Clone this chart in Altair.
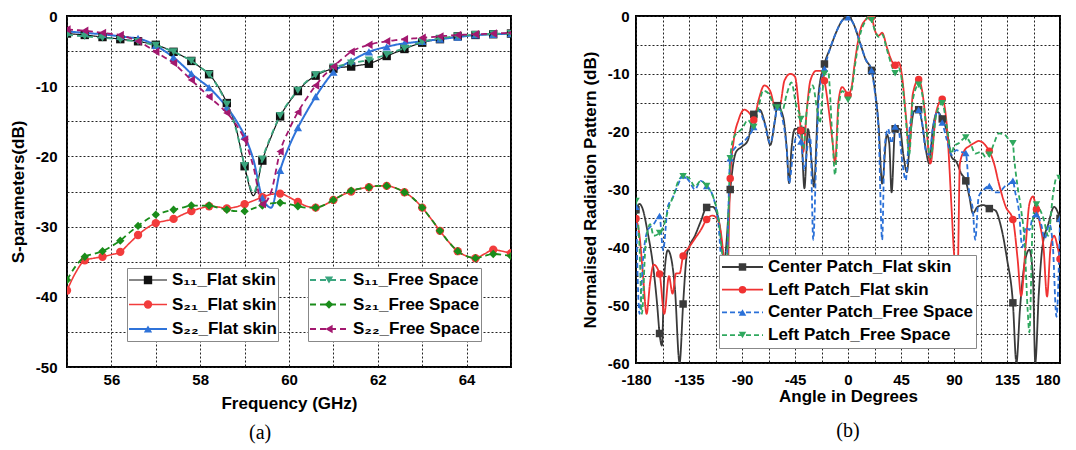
import altair as alt
import pandas as pd

FONT = "Liberation Sans"

# ---------------- Panel (a): S-parameters ----------------
FREQ = [55.0, 55.2, 55.4, 55.6, 55.8, 56.0, 56.2, 56.4, 56.6, 56.8,
        57.0, 57.2, 57.4, 57.6, 57.8, 58.0, 58.2, 58.4, 58.6, 58.8,
        59.0, 59.2, 59.4, 59.6, 59.8, 60.0, 60.2, 60.4, 60.6, 60.8,
        61.0, 61.2, 61.4, 61.6, 61.8, 62.0, 62.2, 62.4, 62.6, 62.8,
        63.0, 63.2, 63.4, 63.6, 63.8, 64.0, 64.2, 64.4, 64.6, 64.8, 65.0]

S11_FLAT = [-2.5, -2.6, -2.7, -2.85, -3.0, -3.15, -3.3, -3.45, -3.6, -3.85,
            -4.1, -4.55, -5.1, -5.7, -6.4, -7.3, -8.3, -10.0, -12.4, -15.8,
            -21.4, -25.6, -20.6, -17.2, -14.3, -12.3, -10.7, -9.4, -8.5, -7.9,
            -7.5, -7.3, -7.2, -7.0, -6.8, -6.3, -5.7, -5.2, -4.7, -4.2,
            -3.8, -3.5, -3.3, -3.1, -2.9, -2.8, -2.7, -2.65, -2.6, -2.55, -2.5]
S21_FLAT = [-39.1, -36.5, -34.8, -34.5, -34.3, -34.0, -33.6, -32.4, -31.2, -30.2,
            -29.5, -29.2, -28.9, -28.3, -27.8, -27.4, -27.1, -27.2, -27.4, -27.2,
            -26.8, -26.3, -25.8, -25.4, -25.3, -25.8, -26.5, -27.1, -27.3, -26.9,
            -26.2, -25.5, -25.0, -24.6, -24.4, -24.2, -24.2, -24.5, -25.1, -26.0,
            -27.3, -28.9, -30.6, -32.2, -33.5, -34.2, -34.5, -33.9, -33.3, -33.5, -33.8]
S22_FLAT = [-2.2, -2.3, -2.4, -2.5, -2.6, -2.75, -2.9, -3.05, -3.2, -3.6,
            -4.2, -5.0, -5.9, -7.0, -8.2, -9.2, -10.2, -11.5, -13.0, -14.8,
            -17.1, -20.5, -25.9, -27.3, -22.0, -18.6, -15.9, -13.6, -11.5, -9.6,
            -8.0, -7.1, -6.4, -5.7, -5.1, -4.7, -4.4, -4.1, -3.9, -3.75,
            -3.6, -3.45, -3.3, -3.15, -3.0, -2.85, -2.7, -2.65, -2.6, -2.55, -2.5]
S11_FREE = [-2.7, -2.8, -2.9, -3.0, -3.1, -3.2, -3.35, -3.5, -3.65, -3.9,
            -4.2, -4.6, -5.1, -5.7, -6.4, -7.3, -8.3, -10.1, -12.6, -16.0,
            -21.3, -25.2, -20.4, -17.0, -14.2, -12.2, -10.6, -9.3, -8.4, -7.8,
            -7.3, -7.0, -6.7, -6.5, -6.3, -5.9, -5.5, -5.0, -4.6, -4.1,
            -3.7, -3.4, -3.2, -3.0, -2.85, -2.75, -2.65, -2.6, -2.55, -2.5, -2.5]
S21_FREE = [-37.6, -35.6, -34.3, -33.9, -33.5, -32.8, -32.0, -30.9, -29.9, -29.0,
            -28.3, -27.9, -27.6, -27.3, -27.0, -27.0, -27.0, -27.3, -27.6, -27.8,
            -27.8, -27.4, -27.0, -26.7, -26.6, -26.8, -27.1, -27.3, -27.3, -26.9,
            -26.2, -25.5, -24.9, -24.6, -24.4, -24.2, -24.2, -24.5, -25.1, -26.0,
            -27.3, -28.9, -30.6, -32.2, -33.5, -34.2, -34.5, -34.2, -33.9, -34.0, -34.2]
S22_FREE = [-1.9, -2.0, -2.1, -2.25, -2.4, -2.55, -2.7, -3.1, -3.6, -4.3,
            -5.1, -5.9, -6.7, -7.9, -9.1, -10.3, -11.5, -12.6, -13.8, -15.4,
            -17.6, -21.5, -26.8, -25.0, -19.3, -16.2, -13.7, -11.7, -9.9, -8.4,
            -7.2, -6.1, -5.1, -4.5, -4.1, -3.8, -3.6, -3.45, -3.3, -3.2,
            -3.1, -3.0, -2.9, -2.8, -2.7, -2.65, -2.6, -2.55, -2.5, -2.45, -2.4]

A_FLAT = ["S\u2081\u2081_Flat skin", "S\u2082\u2081_Flat skin", "S\u2082\u2082_Flat skin"]
A_FREE = ["S\u2081\u2081_Free Space", "S\u2082\u2081_Free Space", "S\u2082\u2082_Free Space"]
A_FLAT_COLORS = ["#111111", "#f23c3c", "#2f73d9"]
A_FREE_COLORS = ["#3aa57e", "#1a8c1a", "#a3186f"]
A_FLAT_SHAPES = ["square", "circle", "triangle-up"]
A_FREE_SHAPES = ["triangle-down", "diamond", "triangle-left"]

# ---------------- Panel (b): radiation pattern ----------------
CF_ANG = [-180, -177, -175, -170, -165, -162, -160, -158, -156, -153, -150, -147, -143, -140, -137, -135,
          -130, -125, -120, -115, -110, -105, -100, -97, -95, -90, -85, -80, -75, -70, -66, -62, -60,
          -55, -52, -50, -48, -45, -40, -37, -34, -31, -29, -25, -20, -15, -10, -5, 0, 5, 10, 15, 20,
          23, 26, 29, 33, 35, 37, 40, 44, 47, 50, 53, 56, 60, 63, 66, 69, 72, 76, 80, 84, 88, 92, 96,
          100, 103, 106, 110, 115, 120, 125, 130, 135, 140, 143, 146, 150, 154, 157, 159, 162, 165,
          170, 175, 180]
CF_DB = [-33.5, -32.5, -33, -37.5, -44, -50, -54.9, -57, -45, -40.5, -42, -47, -60, -49.8, -41.5, -40,
         -38, -35.5, -33.1, -33, -35, -42, -30, -25, -23.5, -22.6, -21.5, -17, -16.2, -19, -22.3, -18, -15.5,
         -17.5, -23, -28.9, -23, -19.5, -19.8, -29.8, -19.5, -25, -29.5, -13.5, -8.3, -5.5, -2.8, -0.8, 0,
         -1.5, -4.5, -7.5, -9.4, -13, -19, -29, -20.5, -22, -30.5, -19.5, -19.5, -24, -27, -20.5, -16.5,
         -16.2, -18.6, -23, -25.5, -19.5, -16.6, -17.8, -20, -24.4, -25.2, -27.2, -28.5, -31.2, -34.1, -33,
         -32.7, -33.3, -33.6, -36.5, -42, -49.6, -60, -50.7, -42.7, -40.4, -45, -60, -48, -40, -36, -33, -35]

LF_ANG = [-180, -177, -174, -171, -168, -165, -160, -156, -152, -149, -146, -143, -140, -135, -130, -125,
          -120, -115, -110, -106, -103, -100, -97, -93, -88, -83, -80, -76, -71, -66, -62, -58, -54, -49,
          -45, -42, -40, -38, -35, -32, -27, -23, -20, -17, -13, -11, -8, -5, -2, 0, 3, 6, 10, 15, 19, 20,
          23, 26, 29, 33, 37, 40, 43, 46, 49, 52, 55, 60, 63, 66, 70, 75, 80, 84, 88, 90, 93, 95, 99, 103,
          107, 111, 116, 120, 124, 128, 134, 140, 144, 147, 151, 154, 157, 160, 163, 166, 169, 172, 175,
          178, 180]
LF_DB = [-35, -38, -45, -51.5, -46, -43, -44.6, -51.5, -45, -48, -44.5, -44.5, -41.5, -40, -38.5, -37,
         -35.2, -34.5, -35.5, -41, -50, -28.1, -21.5, -18, -16.2, -17, -18, -14.6, -12, -13, -15.5, -15.5,
         -11.2, -10, -10.5, -15.2, -19.8, -23.5, -16.3, -11.2, -9.5, -9.5, -11.2, -15.2, -22, -25.5, -14.6,
         -12.3, -13, -13.7, -12.3, -7.7, -2.8, -0.6, 0, -0.2, -2.6, -3.4, -2.9, -5.4, -7.7, -8.5, -8, -10.6,
         -16.9, -23.2, -13.5, -11, -13, -18, -25.5, -16.5, -14.4, -19.2, -33.5, -41, -45, -25.5, -23.2,
         -22.5, -22, -21.6, -22.2, -23.4, -25.5, -28.9, -33, -35.2, -42, -48.4, -39.3, -32.5, -31.2, -33.4,
         -36, -40, -48.5, -40, -38, -40, -42]

CS_ANG = [-180, -177, -174, -170, -165, -160, -157, -153, -149, -145, -140, -135, -130, -125, -120, -115,
          -110, -106, -103, -100, -95, -90, -85, -80, -76, -71, -66, -62, -60, -56, -52, -50, -46, -43, -40,
          -37, -34, -32, -29.5, -27, -24.5, -20, -15, -10, -5, 0, 5, 10, 15, 20, 23, 26, 29, 31, 34, 37, 40,
          43, 46, 49, 52, 56, 60, 63, 66, 69, 72, 76, 80, 84, 88, 92, 96, 100, 103, 106, 108, 111, 115, 120,
          124, 128, 133, 137, 140, 142, 145, 148, 151, 154, 157, 160, 164, 167, 171, 174, 177, 180]
CS_DB = [-33, -51.5, -42, -37, -36, -34.6, -40.5, -33, -31.5, -29.5, -27.6, -28.5, -30, -28.5, -29.4, -31,
         -36, -46, -43, -24.6, -22.6, -22, -20.9, -19.2, -16.3, -18.5, -22, -18, -15.8, -17.5, -23.2, -28.9,
         -22.5, -20.6, -21.7, -26.6, -22, -21, -38.7, -25, -13.5, -9.1, -5.5, -2.8, -0.8, -0.2, -1.5, -4.5,
         -7.5, -9.4, -13.5, -20, -38.7, -23, -19.5, -22, -19.1, -19.8, -25, -28.4, -20, -16.3, -16.2, -18.6,
         -23.2, -24, -19.5, -16.6, -18.4, -21.5, -24, -23.2, -23.5, -23.7, -30.7, -33.5, -38.7, -31.2, -30.1,
         -29.4, -30.5, -30.5, -29.5, -29, -28.5, -30.5, -33.5, -40, -36.5, -37, -34.7, -34.3, -36, -38.5,
         -36, -40, -52, -35]

LS_ANG = [-180, -177, -175, -172, -168, -165, -160, -156, -152, -148, -144, -140, -135, -130, -125, -120,
          -115, -110, -106, -103, -100, -97, -90, -85, -80, -76, -72, -67, -62, -60, -56, -52, -48, -44, -40,
          -38, -35, -30, -26, -24, -20, -17, -13, -11, -8, -5, -2, 0, 3, 6, 10, 15, 18, 20, 23, 26, 29, 33,
          37, 40, 43, 46, 49, 52, 55, 60, 63, 66, 70, 75, 80, 84, 88, 90, 94, 100, 104, 108, 113, 117, 120,
          124, 128, 133, 137, 140, 141, 144, 147, 150, 152.5, 154, 157, 160, 163, 166, 170, 174, 177, 180]
LS_DB = [-32, -40, -51.5, -40, -36, -38, -37.5, -36, -33, -31, -28.5, -27.7, -28, -29.5, -28.5, -29.4,
         -31, -35, -42, -43, -24.6, -21, -19.5, -18, -19.2, -15.8, -12.9, -13.5, -15.8, -15.8, -16.5, -13.5,
         -11.5, -15.5, -17.8, -23, -16.3, -12, -16.5, -18.5, -10, -9.5, -22, -27.5, -16, -13, -13.5, -14.5,
         -13, -8.5, -3.5, -0.8, 0, -0.7, -2.6, -3.6, -3.2, -5.8, -8.5, -9.9, -9, -11.5, -17.5, -24, -14.5,
         -11.9, -13.5, -18.5, -24.5, -17, -15.1, -19.2, -23.8, -22.5, -22, -21, -22, -23.8, -23.5, -24.4,
         -24, -22, -20.3, -20.5, -21.5, -22, -24.4, -29.5, -33.5, -39.3, -50.7, -54.7, -35, -32.6, -33.5,
         -35, -38, -31, -28, -28]

B_NAMES = ["Center Patch_Flat skin", "Left Patch_Flat skin",
           "Center Patch_Free Space", "Left Patch_Free Space"]
B_COLORS = ["#3a3a3a", "#f03232", "#2a70d8", "#2fa85e"]
B_SHAPES = ["square", "circle", "triangle-up", "triangle-down"]

for a_, b_ in [(CF_ANG, CF_DB), (LF_ANG, LF_DB), (CS_ANG, CS_DB), (LS_ANG, LS_DB)]:
    assert len(a_) == len(b_), (len(a_), len(b_))

# ---------------- build tables ----------------
rows_a = []
for name, vals in zip(A_FLAT + A_FREE, [S11_FLAT, S21_FLAT, S22_FLAT, S11_FREE, S21_FREE, S22_FREE]):
    for i, (f, v) in enumerate(zip(FREQ, vals)):
        rows_a.append({"f": f, "v": v, "s": name, "mk": int(i % 2 == 0)})
df_a = pd.DataFrame(rows_a)

rows_b = []
for name, angs, vals in zip(B_NAMES, [CF_ANG, LF_ANG, CS_ANG, LS_ANG], [CF_DB, LF_DB, CS_DB, LS_DB]):
    for a, v in zip(angs, vals):
        rows_b.append({"a": a, "v": v, "s": name, "mk": int((a + 180) % 20 == 0)})
df_b = pd.DataFrame(rows_b)


def line_legend(x, y, sym_len, clip, rowpad, pad, extra=None):
    kw = dict(orient="none", legendX=x, legendY=y, title=None, symbolType="stroke",
              symbolSize=sym_len * sym_len, clipHeight=clip, rowPadding=rowpad, padding=pad,
              fillColor="white", strokeColor="#888888", labelFont=FONT, labelFontSize=17,
              labelFontWeight="bold", labelColor="black", labelLimit=400, labelOffset=4)
    if extra:
        kw.update(extra)
    return alt.Legend(**kw)


def marker_legend(x, y, clip, rowpad, pad, size):
    # markers only: drawn on top of the line legend's stroke symbols
    return alt.Legend(orient="none", legendX=x, legendY=y, title=None, symbolSize=size,
                      clipHeight=clip, rowPadding=rowpad, padding=pad, labelFont=FONT,
                      labelFontSize=17, labelFontWeight="bold", labelOpacity=0,
                      labelExpr="' '", labelLimit=400, labelOffset=4, symbolStrokeWidth=0)


# ---------------- panel (a) ----------------
xa = alt.X("f:Q", scale=alt.Scale(domain=[55, 65], nice=False, zero=False),
           axis=alt.Axis(values=list(range(55, 66)), title="Frequency (GHz)",
                         labelExpr="datum.value % 2 == 0 && datum.value > 55 && datum.value < 65 ? toString(datum.value) : ''",
                         labelPadding=5, titlePadding=8))
ya = alt.Y("v:Q", scale=alt.Scale(domain=[-50, 0], nice=False, zero=False),
           axis=alt.Axis(values=list(range(-50, 1, 5)), title="S-parameters(dB)",
                         labelExpr="datum.value % 10 == 0 ? toString(datum.value) : ''",
                         labelPadding=10, titlePadding=8))


def a_group(names, colors, dashes, widths, shapes, lx, ly, sym_len, shift):
    base = alt.Chart(df_a).transform_filter(alt.FieldOneOfPredicate(field="s", oneOf=names))
    lleg = line_legend(lx, ly, sym_len, 22, 2.5, 1)
    lines = base.mark_line(interpolate="monotone", clip=True).encode(
        x=xa, y=ya,
        color=alt.Color("s:N", scale=alt.Scale(domain=names, range=colors), legend=lleg),
        strokeDash=alt.StrokeDash("s:N", scale=alt.Scale(domain=names, range=dashes), legend=lleg),
        strokeWidth=alt.StrokeWidth("s:N", scale=alt.Scale(domain=names, range=widths), legend=lleg),
    )
    mleg = marker_legend(lx + shift, ly, 22, 2.5, 1, 70)
    pts = base.transform_filter(alt.datum.mk == 1).mark_point(filled=True, size=70, opacity=1, clip=True).encode(
        x=xa, y=ya,
        color=alt.Color("s:N", scale=alt.Scale(domain=names, range=colors), legend=mleg),
        shape=alt.Shape("s:N", scale=alt.Scale(domain=names, range=shapes), legend=mleg),
    )
    return [lines, pts]


layers_a = (a_group(A_FLAT, A_FLAT_COLORS, [[1, 0], [1, 0], [1, 0]], [1.2, 2.0, 2.0], A_FLAT_SHAPES,
                    60, 252, 38, 11.5)
            + a_group(A_FREE, A_FREE_COLORS, [[6, 4], [6, 4], [6, 4]], [1.8, 1.8, 1.8], A_FREE_SHAPES,
                      241, 252, 38, 11.5))

panel_a = alt.layer(*layers_a).resolve_scale(
    color="independent", shape="independent", strokeDash="independent", strokeWidth="independent"
).properties(
    width=444, height=351,
    title=alt.TitleParams("(a)", orient="bottom", font="Liberation Serif", fontSize=20,
                          fontWeight="normal", color="black", frame="bounds", offset=12),
)

# ---------------- panel (b) ----------------
xb = alt.X("a:Q", scale=alt.Scale(domain=[-180, 180], nice=False, zero=False),
           axis=alt.Axis(values=[-180 + 22.5 * k for k in range(17)], title="Angle in Degrees",
                         labelExpr="datum.value % 45 == 0 ? toString(datum.value) : ''",
                         labelAlign={"condition": {"test": "datum.value >= 180", "value": "right"},
                                     "value": "center"},
                         labelPadding=9, titlePadding=1))
yb = alt.Y("v:Q", scale=alt.Scale(domain=[-60, 0], nice=False, zero=False),
           axis=alt.Axis(values=list(range(-60, 1, 5)), title="Normalised Radiation Pattern (dB)",
                         labelExpr="datum.value % 10 == 0 ? toString(datum.value) : ''",
                         labelPadding=7, titlePadding=8))

base_b = alt.Chart(df_b)
lleg_b = line_legend(83, 239, 41, 20, 2.7, 2,
                     extra={"symbolStrokeWidth": 1.8, "labelExpr": "datum.label + '        '"})
lines_b = base_b.mark_line(interpolate="monotone", strokeWidth=1.8, clip=True).encode(
    x=xb, y=yb,
    color=alt.Color("s:N", scale=alt.Scale(domain=B_NAMES, range=B_COLORS), legend=lleg_b),
    strokeDash=alt.StrokeDash("s:N", scale=alt.Scale(domain=B_NAMES, range=[[1, 0], [1, 0], [5, 3], [5, 3]]),
                              legend=lleg_b),
)
mleg_b = marker_legend(83 + 13, 239, 20, 2.7, 2, 56)
pts_b = base_b.transform_filter(alt.datum.mk == 1).mark_point(filled=True, size=56, opacity=1, clip=True).encode(
    x=xb, y=yb,
    color=alt.Color("s:N", scale=alt.Scale(domain=B_NAMES, range=B_COLORS), legend=mleg_b),
    shape=alt.Shape("s:N", scale=alt.Scale(domain=B_NAMES, range=B_SHAPES), legend=mleg_b),
)
panel_b = alt.layer(lines_b, pts_b).resolve_scale(
    color="independent", shape="independent", strokeDash="independent"
).properties(
    width=424, height=347,
    title=alt.TitleParams("(b)", orient="bottom", font="Liberation Serif", fontSize=20,
                          fontWeight="normal", color="black", frame="group", offset=17),
)

chart = alt.hconcat(panel_a, panel_b, spacing=68).properties(
    padding={"left": 0, "top": 0, "right": 0, "bottom": 0},
    background="white",
).configure_view(
    stroke="black", strokeWidth=2
).configure_axis(
    grid=True, gridColor="#222222", gridDash=[2, 2], gridWidth=1, gridOpacity=1,
    domain=False, ticks=False, labelOverlap=False, labelFlush=False,
    labelFont=FONT, labelFontSize=15, labelFontWeight="bold", labelColor="black",
    titleFont=FONT, titleFontSize=17, titleFontWeight="bold", titleColor="black",
)

chart.save("out.html", embed_options={"renderer": "svg", "actions": False})
